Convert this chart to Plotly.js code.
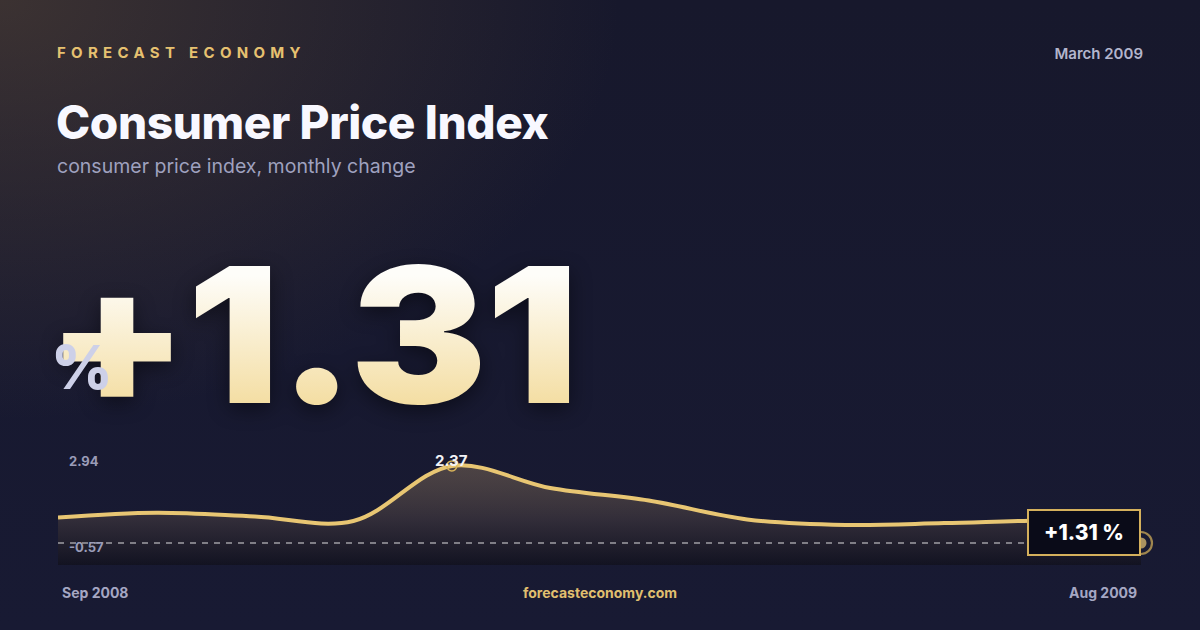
<!DOCTYPE html>
<html>
<head>
<meta charset="utf-8">
<script src="https://cdn.plot.ly/plotly-3.0.1.min.js"></script>
<style>
  html, body { margin: 0; padding: 0; }
  body {
    width: 1200px; height: 630px; overflow: hidden;
    font-family: Inter, "Noto Sans", sans-serif;
    background:
      radial-gradient(ellipse 620px 420px at 0% 0%, rgba(110, 86, 58, 0.42) 0%, rgba(110, 86, 58, 0) 100%),
      linear-gradient(180deg, #17182c 0%, #181a33 100%);
  }
  #card { position: relative; width: 1200px; height: 630px; }
  .brand {
    position: absolute; left: 57px; top: 43px;
    color: #e6c170; font-size: 15px; font-weight: 700; letter-spacing: 5.3px;
  }
  .date {
    position: absolute; right: 57px; top: 44px;
    color: #b3b5cc; font-size: 15px; font-weight: 600;
  }
  h1 {
    position: absolute; left: 56px; top: 97px; margin: 0;
    color: #f8f8ff; font-size: 46px; font-weight: 800; letter-spacing: -0.4px; line-height: 1.1;
  }
  .sub {
    position: absolute; left: 57px; top: 154px;
    color: #9fa1bf; font-size: 19.5px; font-weight: 400;
  }
  .hero {
    position: absolute; left: 46px; top: 241px; height: 190px;
    font-size: 188px; font-weight: 900; line-height: 1; letter-spacing: -1px;
    transform-origin: left top; transform: scaleX(1.09);
    background: linear-gradient(180deg, #fefdf9 18%, #f3db9b 92%);
    -webkit-background-clip: text; background-clip: text; color: transparent;
    filter: drop-shadow(0 6px 10px rgba(0,0,0,0.45));
  }
  .pct {
    position: absolute; left: 51px; top: 337px;
    color: #cdd0e8; font-size: 60px; font-weight: 800; line-height: 1;
  }
  #chart { position: absolute; left: 0; top: 0; width: 1200px; height: 630px; }
</style>
</head>
<body>
<div id="card">
  <div class="brand">FORECAST ECONOMY</div>
  <div class="date">March 2009</div>
  <h1>Consumer Price Index</h1>
  <div class="sub">consumer price index, monthly change</div>
  <div class="hero" id="hero"></div>
  <div class="pct">%</div>
  <div id="chart"></div>
</div>
<script>
const months = ["Sep 2008", "Oct 2008", "Nov 2008", "Dec 2008", "Jan 2009", "Feb 2009",
                "Mar 2009", "Apr 2009", "May 2009", "Jun 2009", "Jul 2009", "Aug 2009"];
const cpiChange = [0.40, 0.58, 0.44, 0.27, 2.37, 1.53, 1.05, 0.33, 0.12, 0.19, 0.29, 0.31];
const rangeLabels = [2.94, -0.57];
const axisFloor = -1.41;
const latestValue = "+1.31";

document.getElementById("hero").textContent = latestValue;

const gold = "#e8c673";
const yMax = rangeLabels[0];
const yMin = rangeLabels[1];
const peak = Math.max(...cpiChange);
const peakIdx = cpiChange.indexOf(peak);
const last = months[months.length - 1];

const baseTrace = {
  x: months,
  y: months.map(() => axisFloor),
  type: "scatter",
  mode: "lines",
  line: { width: 0, color: "rgba(0,0,0,0)" },
  hoverinfo: "skip",
  showlegend: false,
};

const cpiTrace = {
  x: months,
  y: cpiChange,
  type: "scatter",
  mode: "lines",
  line: { color: gold, width: 4, shape: "spline", smoothing: 1 },
  fill: "tonexty",
  fillgradient: {
    type: "vertical",
    start: peak,
    stop: axisFloor,
    colorscale: [
      [0, "rgba(150, 125, 95, 0.42)"],
      [0.55, "rgba(70, 60, 62, 0.55)"],
      [1, "rgba(14, 13, 20, 0.55)"],
    ],
  },
  showlegend: false,
};

const peakTrace = {
  x: [months[peakIdx]],
  y: [peak],
  type: "scatter",
  mode: "markers",
  marker: { size: 10, color: "rgba(0,0,0,0)", line: { color: "#d9b45a", width: 1.5 } },
  showlegend: false,
};

const endTrace = {
  x: [last, last],
  y: [yMin, yMin],
  type: "scatter",
  mode: "markers",
  cliponaxis: false,
  marker: {
    size: [22, 11],
    color: ["rgba(0,0,0,0)", gold],
    line: { color: ["#d9b45a", gold], width: [2.2, 0] },
  },
  showlegend: false,
};

const labelFont = { family: "Inter, sans-serif", size: 13, color: "#9a9cb8", weight: 700 };

const layout = {
  width: 1200,
  height: 630,
  margin: { l: 58, r: 59, t: 451, b: 65 },
  paper_bgcolor: "rgba(0,0,0,0)",
  plot_bgcolor: "rgba(0,0,0,0)",
  xaxis: {
    type: "category",
    range: [0, months.length - 1],
    showgrid: false, zeroline: false, showticklabels: false, showline: false,
  },
  yaxis: {
    range: [axisFloor, yMax],
    showgrid: false, zeroline: false, showticklabels: false, showline: false,
  },
  shapes: [
    {
      type: "line", xref: "paper", x0: 0, x1: 1, yref: "y", y0: yMin, y1: yMin,
      line: { color: "rgba(255,255,255,0.85)", width: 1.2, dash: "6px,6px" },
    },
  ],
  annotations: [
    {
      xref: "paper", x: 0, xanchor: "left", xshift: 9,
      yref: "paper", y: 1, yanchor: "middle", yshift: -10,
      text: yMax.toFixed(2), showarrow: false, font: labelFont,
    },
    {
      xref: "paper", x: 0, xanchor: "left", xshift: 9,
      yref: "y", y: yMin, yanchor: "middle", yshift: -4,
      text: yMin.toFixed(2), showarrow: false, font: labelFont,
    },
    {
      x: months[peakIdx], y: peak, yanchor: "middle", yshift: 5,
      text: peak.toFixed(2), showarrow: false,
      font: { family: "Inter, sans-serif", size: 15, color: "#f2f2f6", weight: 700 },
    },
    {
      x: last, y: yMin, xanchor: "right", yanchor: "middle", yshift: 10, xshift: 0,
      text: latestValue + " %", showarrow: false,
      width: 106, height: 39,
      bgcolor: "#0a0b18", bordercolor: "#d4b05c", borderwidth: 2, borderpad: 2,
      font: { family: "Inter, sans-serif", size: 21, color: "#ffffff", weight: 800 },
    },
    {
      x: months[0], xanchor: "left", xshift: 2,
      yref: "paper", y: 0, yanchor: "middle", yshift: -27,
      text: months[0], showarrow: false,
      font: { family: "Inter, sans-serif", size: 14, color: "#a5a7c3", weight: 700 },
    },
    {
      xref: "paper", x: 0.5, xanchor: "center",
      yref: "paper", y: 0, yanchor: "middle", yshift: -27,
      text: "forecasteconomy.com", showarrow: false,
      font: { family: "Inter, sans-serif", size: 14, color: "#e0bf6f", weight: 700 },
    },
    {
      x: last, xanchor: "right", xshift: -2,
      yref: "paper", y: 0, yanchor: "middle", yshift: -27,
      text: last, showarrow: false,
      font: { family: "Inter, sans-serif", size: 14, color: "#a5a7c3", weight: 700 },
    },
  ],
};

Plotly.newPlot("chart", [baseTrace, cpiTrace, peakTrace, endTrace], layout, { staticPlot: true, displayModeBar: false });
</script>
</body>
</html>
